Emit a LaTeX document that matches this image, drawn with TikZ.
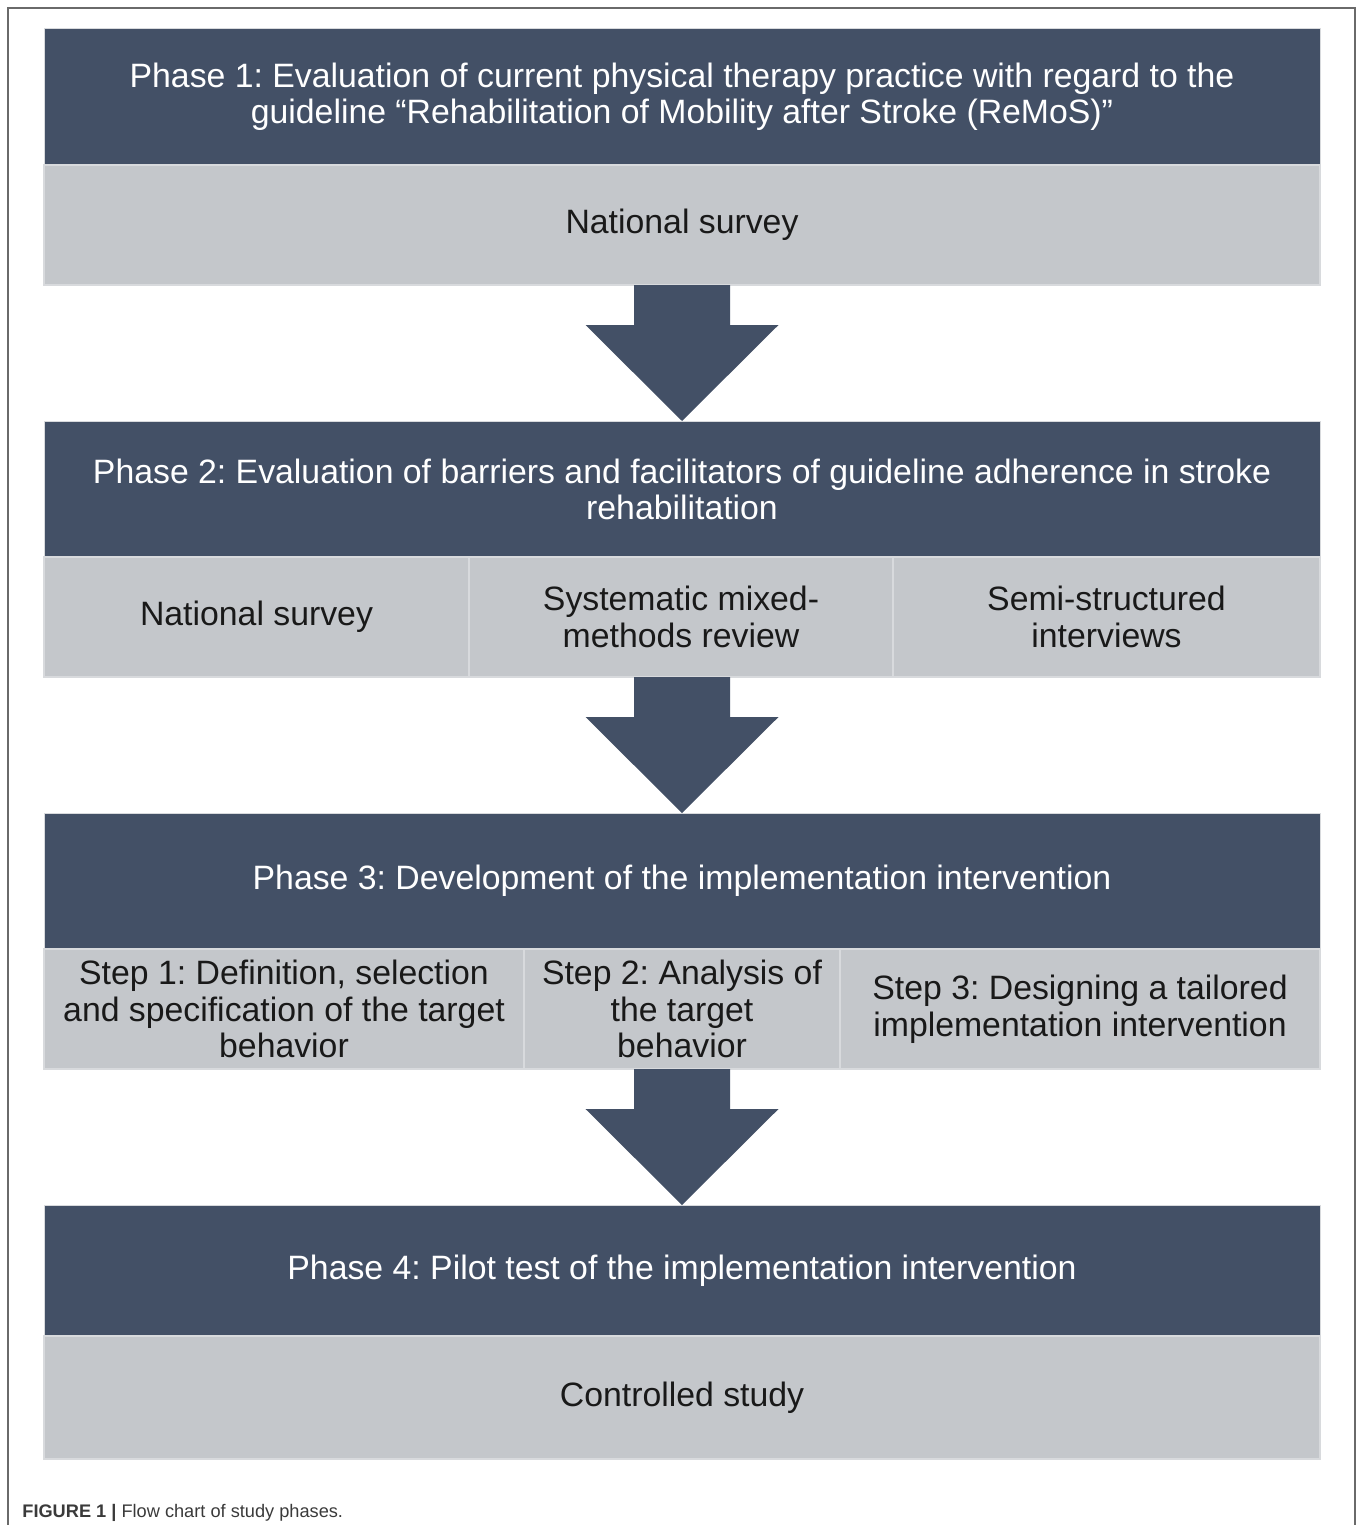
\documentclass[tikz,border=0pt]{standalone}
\usepackage{fontspec}
\setmainfont{Liberation Sans}
\usetikzlibrary{calc}
\frenchspacing
\definecolor{darkbox}{HTML}{435066}
\definecolor{graybox}{HTML}{C4C7CB}
\definecolor{edgegray}{HTML}{D8DADD}
\definecolor{framegray}{HTML}{6A6A6A}
\definecolor{captxt}{HTML}{3A3A3A}
\tikzset{
  head/.style={fill=darkbox, draw=edgegray, line width=0.5pt, text=white, inner sep=0pt, outer sep=0pt,
    anchor=north west, minimum width=638pt, minimum height=68pt, align=center,
    font=\fontsize{16.9}{18}\selectfont},
  sub/.style={fill=graybox, draw=edgegray, line width=0.8pt, text=black!90, inner sep=0pt, outer sep=0pt,
    anchor=north west, minimum height=60pt, align=center,
    font=\fontsize{16.9}{18.3}\selectfont},
  bigarrow/.style={fill=darkbox},
}
\begin{document}
\begin{tikzpicture}[x=0.5pt,y=-0.5pt]
\useasboundingbox (0,0) rectangle (1358,1525);
% frame
\draw[framegray, line width=0.8pt] (8,1525) -- (8,8) -- (1355,8) -- (1355,1525);

% Phase 1
\node[head] (p1h) at (44,29) {Phase 1: Evaluation of current physical therapy practice with regard to the\\guideline “Rehabilitation of Mobility after Stroke (ReMoS)”};
\node[sub, minimum width=638pt] (p1g) at (44,165) {National survey};

% Phase 2
\node[head] (p2h) at (44,421) {Phase 2: Evaluation of barriers and facilitators of guideline adherence in stroke\\rehabilitation};
\node[sub, minimum width=212.5pt] (p2a) at (44,557) {National survey};
\node[sub, minimum width=212pt] (p2b) at (469,557) {Systematic mixed-\\methods review};
\node[sub, minimum width=213.5pt] (p2c) at (893,557) {Semi-structured\\interviews};

% Phase 3
\node[head] (p3h) at (44,813) {Phase 3: Development of the implementation intervention};
\node[sub, minimum width=240pt] (p3a) at (44,949) {Step 1: Definition, selection\\and specification of the target\\behavior};
\node[sub, minimum width=158pt] (p3b) at (524,949) {Step 2: Analysis of\\the target\\behavior};
\node[sub, minimum width=240pt] (p3c) at (840,949) {Step 3: Designing a tailored\\implementation intervention};

% Phase 4
\node[head, minimum height=65.5pt] (p4h) at (44,1205) {Phase 4: Pilot test of the implementation intervention};
\node[sub, minimum width=638pt, minimum height=61.5pt] (p4g) at (44,1336) {Controlled study};

% arrows
\foreach \a/\b in {p1g/p2h, p2b/p3h, p3b/p4h}{
  \fill[bigarrow] let \p1=(p1g.south), \p2=(\a.south), \p3=(\b.north) in
    (\x1-24pt,\y2) -- (\x1+24pt,\y2) -- (\x1+24pt,\y2-20pt) -- (\x1+48.25pt,\y2-20pt)
    -- (\x1,\y3) -- (\x1-48.25pt,\y2-20pt) -- (\x1-24pt,\y2-20pt) -- cycle;
}

% caption
\node[anchor=base west, inner sep=0pt, text=captxt, font=\fontsize{9.1}{11}\selectfont] (cap) at (22,1517)
  {\textbf{FIGURE 1 |} Flow chart of study phases.};
\end{tikzpicture}
\end{document}
